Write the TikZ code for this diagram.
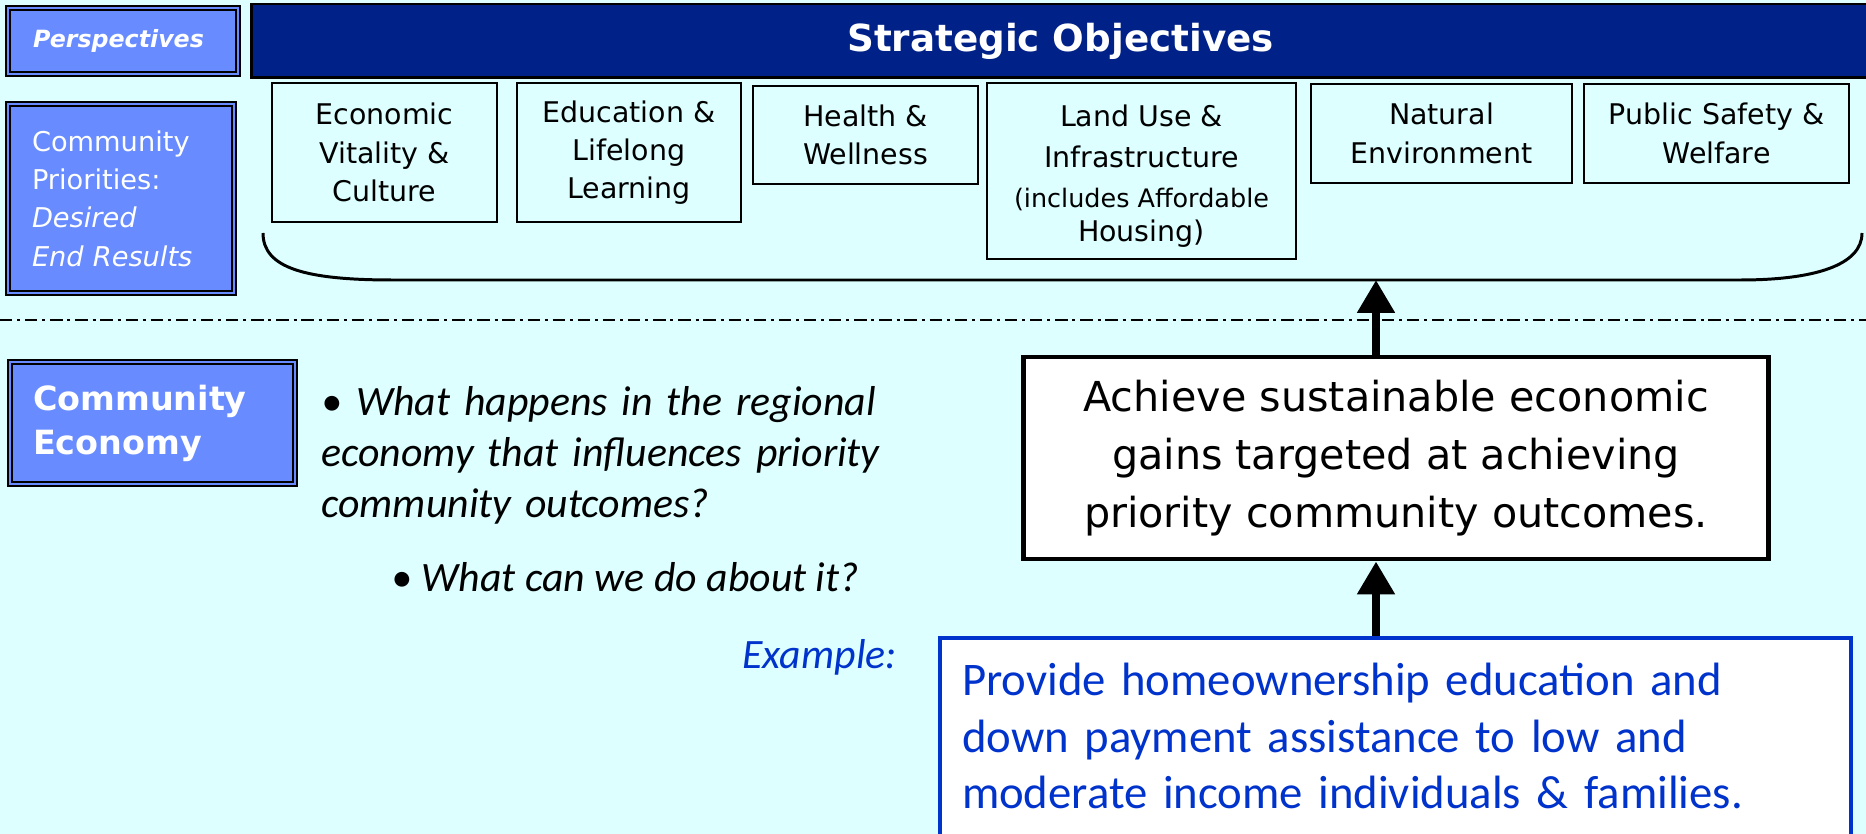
\documentclass[tikz,border=0pt]{standalone}
\usepackage{fontspec}
\setmainfont{DejaVu Sans}
\newfontfamily\calib{Carlito}
\usetikzlibrary{arrows.meta}
\definecolor{bgcyan}{RGB}{221,255,255}
\definecolor{navy}{RGB}{0,34,136}
\definecolor{lblblue}{RGB}{104,140,255}
\definecolor{exblue}{RGB}{0,51,204}
\tikzset{
  lbl/.style={draw=black, line width=1.2pt, double=lblblue, double distance=1.1pt,
    fill=lblblue, text=white, align=left, inner sep=0pt},
  objbox/.style={draw=black, line width=1.1pt, fill=bgcyan, align=center, inner sep=0pt,
    font=\fontsize{16.2}{21.8}\selectfont},
  quest/.style={anchor=base west, align=left, inner sep=0pt,
    font=\calib\itshape\fontsize{23.8}{28.9}\selectfont},
  bigarrow/.style={line width=5.1pt, -{Triangle[width=20.4pt,length=18.7pt]}},
}
\begin{document}
\begin{tikzpicture}[x=0.02cm,y=-0.02cm]
\useasboundingbox (0,0) rectangle (1866,834);
\fill[bgcyan] (0,0) rectangle (1866,834);

\node[lbl, minimum width=4.6cm, minimum height=1.32cm, text width=3.6cm,
  font=\bfseries\itshape\fontsize{13.5}{16}\selectfont] (persp) at (123,41) {Perspectives};
\node[draw=black, line width=1.7pt, fill=navy, text=white, minimum width=32.38cm,
  minimum height=1.48cm, font=\bfseries\fontsize{21.2}{25}\selectfont] (strat) at (1060.5,41) {Strategic Objectives};

\node[lbl, minimum width=4.52cm, minimum height=3.78cm, text width=3.56cm,
  font=\fontsize{15.5}{21.8}\selectfont] (priorities) at (121,198.5)
  {Community\\Priorities:\\\textit{Desired}\\\textit{End Results}};

\node[objbox, minimum width=4.5cm, minimum height=2.78cm] (econ) at (384.5,152.5) {Economic\\Vitality \&\\Culture};
\node[objbox, minimum width=4.48cm, minimum height=2.78cm] (educ) at (629,152.5) {Education \&\\Lifelong\\Learning};
\node[objbox, minimum width=4.5cm, minimum height=1.96cm] (health) at (865.5,135) {Health \&\\Wellness};
\node[objbox, minimum width=6.18cm, minimum height=3.52cm] (land) at (1141.5,171)
  {\rule{0pt}{18pt}Land Use \&\\[1.4pt]Infrastructure\\[1pt]\fontsize{14.5}{20.5}\selectfont(includes Affordable\\[-2.7pt]Housing)};
\node[objbox, minimum width=5.22cm, minimum height=1.98cm] (natural) at (1441.5,133.5) {Natural\\Environment};
\node[objbox, minimum width=5.3cm, minimum height=1.98cm] (safety) at (1716.5,133.5) {Public Safety \&\\Welfare};

\draw[line width=1.7pt] (263,233) .. controls (263,268) and (305,280) .. (393,280) -- (1740,280)
  .. controls (1815,280) and (1862,265) .. (1862,233);
\draw[line width=1.1pt, dash pattern=on 7pt off 2.8pt on 1.7pt off 2.8pt] (0,320) -- (1866,320);

\node[lbl, minimum width=5.7cm, minimum height=2.44cm, text width=4.78cm,
  font=\bfseries\fontsize{19}{25}\selectfont] (economy) at (152.5,423) {Community\\Economy};

\node[quest, text width=12cm] (q1) at (321,416)
  {• What happens in the regional\\economy that influences priority\\community outcomes?};
\node[quest] (q2) at (391,591) {• What can we do about it?};
\node[quest, text=exblue] (example) at (742,668) {Example:};

\node[draw=black, line width=2.8pt, fill=white, minimum width=14.92cm, minimum height=4.04cm,
  align=center, font=\fontsize{23.5}{32.9}\selectfont] (achieve) at (1396,458)
  {Achieve sustainable economic\\gains targeted at achieving\\priority community outcomes.};
\node[draw=exblue, line width=2.3pt, fill=white, text=exblue, anchor=north west,
  text width=17.34cm, inner xsep=0.44cm, inner ysep=0.5cm, align=left,
  font=\calib\fontsize{26.6}{32.3}\selectfont] (homebox) at (938,636)
  {Provide homeownership education and\\down payment assistance to low and\\moderate income individuals \& families.\rule[-0.6cm]{0pt}{1pt}};

\coordinate (bracetip) at (1376,280);
\draw[bigarrow] (achieve.north -| bracetip) -- (bracetip);
\draw[bigarrow] (homebox.north -| bracetip) -- (achieve.south -| bracetip);
\end{tikzpicture}
\end{document}
